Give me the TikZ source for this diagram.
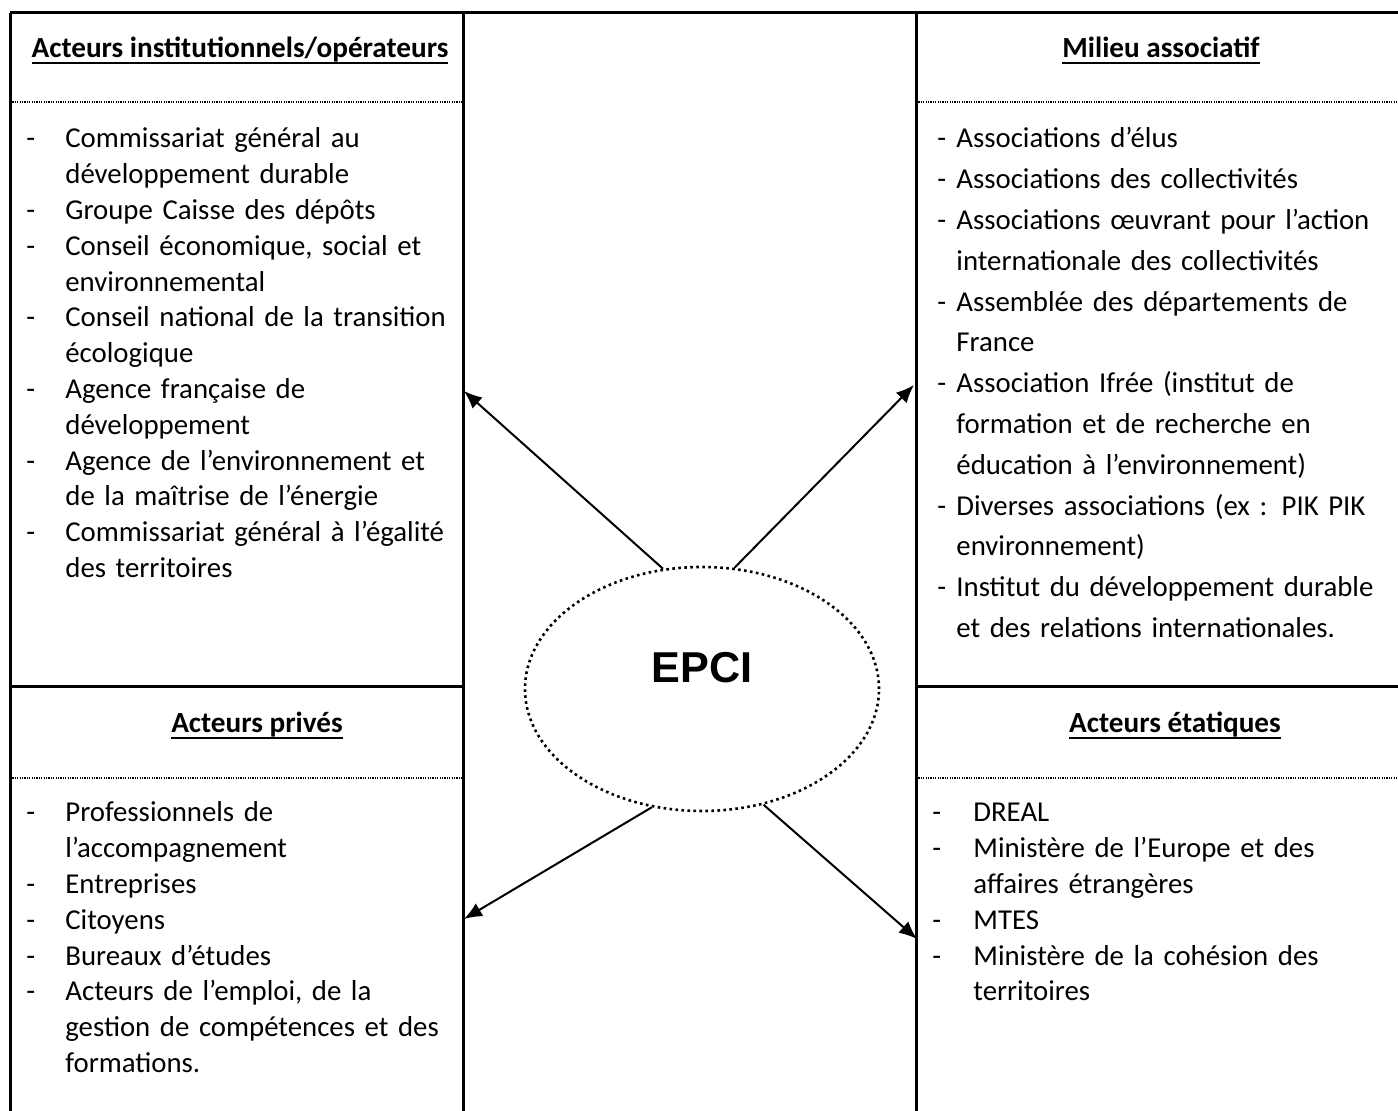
\documentclass[tikz,border=0pt]{standalone}
\usepackage{fontspec}
\setmainfont{Carlito}
\newfontfamily\arialfont{Liberation Sans}
\usetikzlibrary{shapes.geometric,arrows.meta}
\newcommand{\tiret}[2][19.5pt]{\hangindent=#1\hangafter=1\noindent\makebox[#1][l]{-}#2\par}
\newcommand{\souligne}[1]{\setbox0\hbox{#1}\rlap{\rule[-3pt]{\wd0}{1pt}}\box0}

\begin{document}
\begin{tikzpicture}[x=0.5pt, y=-0.5pt,
    cadre/.style={line width=1.5pt},
    pointille/.style={line width=0.7pt, dash pattern=on 0.6pt off 0.6pt},
    titre/.style={anchor=base, inner sep=0pt, font=\bfseries\fontsize{14.6}{17.9}\selectfont},
    liste/.style={anchor=base west, inner sep=0pt, text width=225pt, align=left,
        font=\fontsize{14.4}{17.9}\selectfont},
    fleche/.style={line width=1pt, -{Latex[length=9pt,width=7.5pt]}}]

    \useasboundingbox (0,0) rectangle (1398,1111);

    % Draw the frame of the four boxes
    \draw[cadre] (10,13) -- (1398,13);
    \foreach \x in {10,463,916}{
        \draw[cadre] (\x,13) -- (\x,1111);
    }
    \draw[cadre] (10,687) -- (463,687);
    \draw[cadre] (916,687) -- (1398,687);

    % Dotted lines under the titles
    \foreach \y in {102,778}{
        \draw[pointille] (10,\y) -- (463,\y);
        \draw[pointille] (916,\y) -- (1398,\y);
    }

    % Titles of the boxes
    \node[titre] (tinst) at (240,58) {\souligne{Acteurs institutionnels/opérateurs}};
    \node[titre] (tasso) at (1161,58) {\souligne{Milieu associatif}};
    \node[titre] (tprive) at (257,733) {\souligne{Acteurs privés}};
    \node[titre] (tetat) at (1175,733) {\souligne{Acteurs étatiques}};

    % Lists of actors
    \node[liste] (linst) at (26,148) {%
        \tiret{Commissariat général au\newline développement durable}
        \tiret{Groupe Caisse des dépôts}
        \tiret{Conseil économique, social et\newline environnemental}
        \tiret{Conseil national de la transition\newline écologique}
        \tiret{Agence française de\newline développement}
        \tiret{Agence de l’environnement et\newline de la maîtrise de l’énergie}
        \tiret{Commissariat général à l’égalité\newline des territoires}};
    \node[liste, font=\fontsize{14.4}{20.4}\selectfont] (lasso) at (937,148) {%
        \tiret[9.5pt]{Associations d’élus}
        \tiret[9.5pt]{Associations des collectivités}
        \tiret[9.5pt]{Associations œuvrant pour l’action\newline internationale des collectivités}
        \tiret[9.5pt]{Assemblée des départements de\newline France}
        \tiret[9.5pt]{Association Ifrée (institut de\newline formation et de recherche en\newline éducation à l’environnement)}
        \tiret[9.5pt]{Diverses associations (ex : PIK PIK\newline environnement)}
        \tiret[9.5pt]{Institut du développement durable\newline et des relations internationales.}};
    \node[liste] (lprive) at (26,822) {%
        \tiret{Professionnels de\newline l’accompagnement}
        \tiret{Entreprises}
        \tiret{Citoyens}
        \tiret{Bureaux d’études}
        \tiret{Acteurs de l’emploi, de la\newline gestion de compétences et des\newline formations.}};
    \node[liste] (letat) at (932,822) {%
        \tiret[20.5pt]{DREAL}
        \tiret[20.5pt]{Ministère de l’Europe et des\newline affaires étrangères}
        \tiret[20.5pt]{MTES}
        \tiret[20.5pt]{Ministère de la cohésion des\newline territoires}};

    % EPCI in the middle
    \node[ellipse, draw, line width=1.3pt, dash pattern=on 1.3pt off 1.7pt,
        minimum width=177pt, minimum height=122pt, inner sep=0pt] (epci) at (702,689) {};
    \node[font=\arialfont\bfseries\fontsize{21.6}{26}\selectfont] (epcitexte) at (702,668) {EPCI};

    % Arrow ends on the boxes
    \coordinate (vinst) at (464,391);
    \coordinate (vasso) at (914,385);
    \coordinate (vprive) at (464,919);
    \coordinate (vetat) at (917,939);

    \draw[fleche] (epci.108) -- (vinst);
    \draw[fleche] (epci.75) -- (vasso);
    \draw[fleche] (epci.247) -- (vprive);
    \draw[fleche] (epci.298) -- (vetat);

\end{tikzpicture}
\end{document}
